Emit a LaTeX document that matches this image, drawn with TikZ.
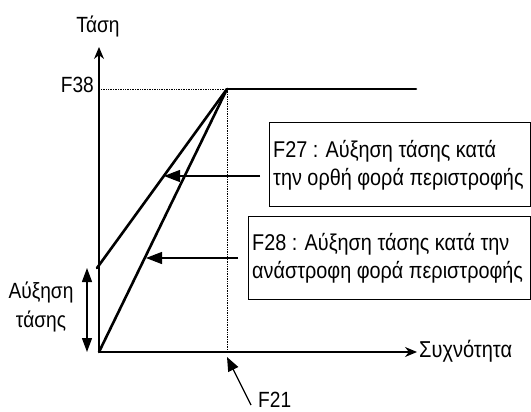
\documentclass[tikz,border=0pt]{standalone}
\usepackage{fontspec}
\setmainfont{Liberation Sans}[FakeStretch=0.87]
\usetikzlibrary{arrows.meta}
\begin{document}
\begin{tikzpicture}[x=1pt,y=-1pt,
  axis/.style={line width=1.1pt,-{Stealth[length=12pt,width=10pt]}},
  curve/.style={line width=2.6pt,line cap=round},
  guide/.style={densely dotted,line width=0.7pt},
  pointer/.style={line width=1.3pt,-{Triangle[length=16pt,width=12pt]}},
  span/.style={line width=1.3pt,{Triangle[length=14pt,width=10pt]}-{Triangle[length=14pt,width=10pt]}},
  lbl/.style={font=\fontsize{22}{29}\selectfont,inner sep=0pt},
  infobox/.style={draw,line width=1.3pt,anchor=north west,inner sep=0pt},
  infotext/.style={anchor=west,align=left,font=\fontsize{22.8}{28}\selectfont,inner sep=0pt}]
\useasboundingbox (0,0) rectangle (531,412);
% key points
\coordinate (O) at (99,352);
\coordinate (Ytop) at (99,47);
\coordinate (Xend) at (417,352);
\coordinate (P) at (227,89);
\coordinate (Pend) at (416,89);
\coordinate (B) at (97,268);
\coordinate (F38p) at (101,89);
\coordinate (F21p) at (227,352);
\coordinate (A1s) at (260,176);
\coordinate (A1e) at (164,176);
\coordinate (A2s) at (238,258);
\coordinate (A2e) at (146,258);
\coordinate (Dt) at (87,268);
\coordinate (Db) at (87,352);
\coordinate (Fs) at (251,405);
\coordinate (Fe) at (227,357);
% axes
\draw[axis] (O) -- (Ytop);
\draw[axis] (O) -- (Xend);
% guides
\draw[guide] (F38p) -- (P);
\draw[guide] (P) -- (F21p);
% curves
\draw[curve] (P) -- (Pend);
\draw[curve] (B) -- (P);
\draw[curve] (O) -- (P);
% labels
\node[lbl] (tasi) at (98,26) {Τάση};
\node[lbl,anchor=east] (f38) at (94,85) {F38};
\node[lbl,align=center] (boost) at (41,307) {Αύξηση\\τάσης};
\node[lbl,anchor=west,font=\fontsize{23}{29}\selectfont] (freq) at (419,351) {Συχνότητα};
\node[lbl,anchor=west] (f21) at (258,400) {F21};
% boxes
\node[infobox,minimum width=261pt,minimum height=84pt] (b1) at (269,122) {};
\node[infotext] (t1) at ([xshift=4pt,yshift=-1pt]b1.west)
  {F27 : Αύξηση τάσης κατά\\την ορθή φορά περιστροφής};
\node[infobox,minimum width=282pt,minimum height=83pt] (b2) at (248,216) {};
\node[infotext] (t2) at ([xshift=4pt]b2.west)
  {F28 : Αύξηση τάσης κατά την\\ανάστροφη φορά περιστροφής};
% pointers
\draw[pointer] (A1s) -- (A1e);
\draw[pointer] (A2s) -- (A2e);
\draw[span] (Dt) -- (Db);
\draw[line width=1.3pt,-{Triangle[length=14pt,width=11pt]}] (Fs) -- (Fe);
\end{tikzpicture}
\end{document}
